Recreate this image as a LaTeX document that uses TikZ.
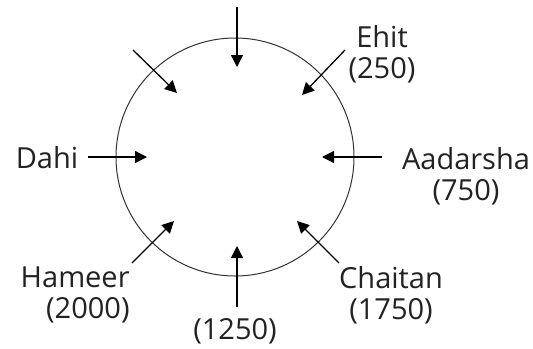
\documentclass[tikz,border=0pt]{standalone}
\usepackage{fontspec}
\setmainfont{Open Sans}
\usepackage{xcolor}
\definecolor{ringline}{HTML}{333333}
\definecolor{labeltext}{HTML}{222222}
\usepackage{tikz}
\usetikzlibrary{arrows.meta,positioning}
\tikzset{
  ringnode/.style={draw=ringline,line width=0.5pt,circle,inner sep=0pt,minimum size=119pt},
  pushflow/.style={-{Triangle[length=6pt,width=6pt]},line width=0.65pt,draw=black},
  namelabel/.style={inner sep=0pt,text=labeltext,font=\fontsize{14.5}{15.5}\selectfont},
}

\begin{document}
\begin{tikzpicture}[x=0.5pt,y=-0.5pt]
  \useasboundingbox (0,0) rectangle (533,348);
  % the circle of people
\node[ringnode] (ring) at (235,157) {};
  % arrow ends
\coordinate (nout) at (237,7);    \coordinate (nin) at (237,67);
\coordinate (neout) at (345,50);  \coordinate (nein) at (302,95);
\coordinate (eout) at (382,157);  \coordinate (ein) at (322,157);
\coordinate (seout) at (339,263); \coordinate (sein) at (297,221);
\coordinate (sout) at (237,307);  \coordinate (sin) at (237,246);
\coordinate (swout) at (132,263); \coordinate (swin) at (174,221);
\coordinate (wout) at (88,157);   \coordinate (win) at (147,157);
\coordinate (nwout) at (133,50);  \coordinate (nwin) at (177,93);
  % names and amounts
\node[namelabel,align=center] (ehit) at (382,54) {Ehit\\(250)};
\node[namelabel,align=center] (aadarsha) at (466,176) {Aadarsha\\(750)};
\node[namelabel] (dahi) at (47,158) {Dahi};
\node[namelabel,align=right,anchor=east] (hameer) at (130,295) {Hameer\\(2000)};
\node[namelabel,align=center] (chaitan) at (391,295) {Chaitan\\(1750)};
\node[namelabel] (bottom) at (235,331) {(1250)};
  % pushes towards the centre
\draw[pushflow] (nout) -- (nin);
\draw[pushflow] (neout) -- (nein);
\draw[pushflow] (eout) -- (ein);
\draw[pushflow] (seout) -- (sein);
\draw[pushflow] (sout) -- (sin);
\draw[pushflow] (swout) -- (swin);
\draw[pushflow] (wout) -- (win);
\draw[pushflow] (nwout) -- (nwin);
\end{tikzpicture}
\end{document}
